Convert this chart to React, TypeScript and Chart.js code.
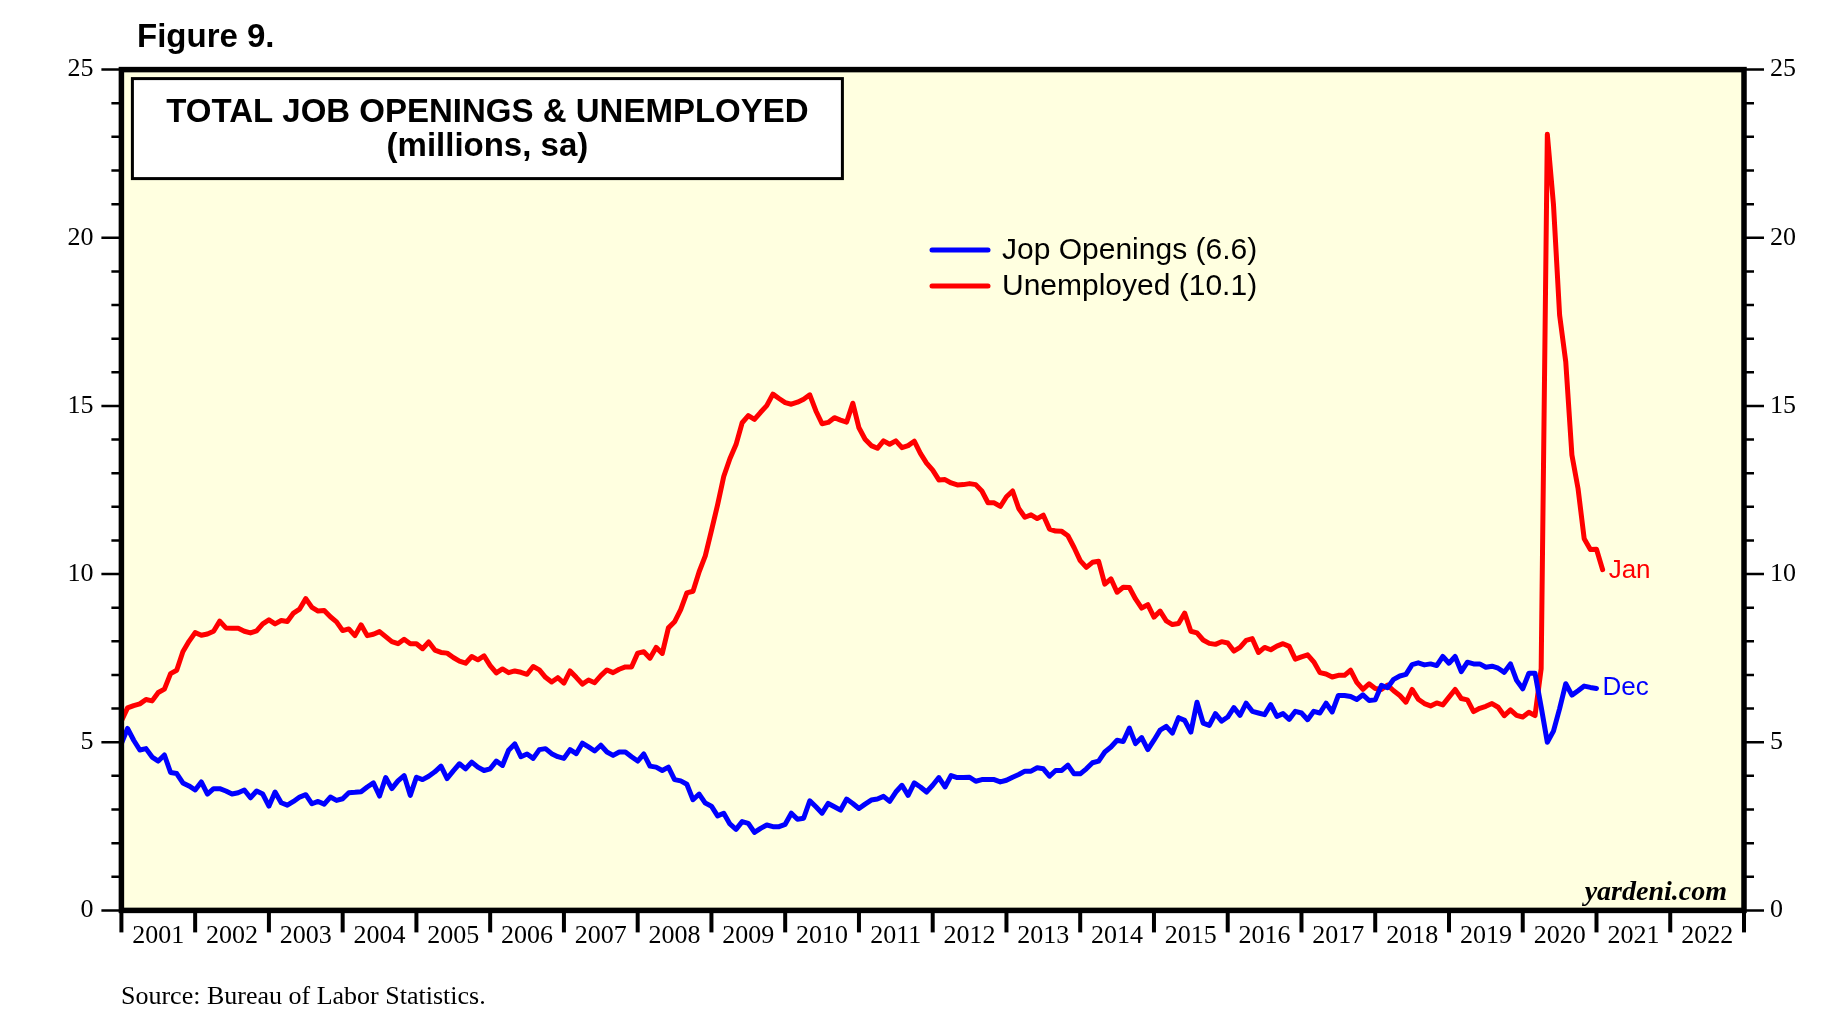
import React, { useEffect, useRef } from "react";
import { Chart, registerables } from "chart.js";

Chart.register(...registerables);

// Monthly series, first value = Dec 2000 (plotted at end of month)
const START_YEAR = 2000;
const START_MONTH = 12;

// Job openings (millions, sa): Dec 2000 .. Dec 2020
const jobOpenings: number[] = [
  4.96,
  5.41, 5.06, 4.77, 4.81, 4.56, 4.44, 4.62, 4.10, 4.07, 3.79, 3.70, 3.58, // 2001
  3.82, 3.46, 3.62, 3.62, 3.55, 3.46, 3.50, 3.58, 3.35, 3.55, 3.46, 3.10, // 2002
  3.52, 3.20, 3.13, 3.24, 3.37, 3.44, 3.17, 3.24, 3.16, 3.37, 3.27, 3.32, // 2003
  3.50, 3.51, 3.53, 3.67, 3.79, 3.40, 3.95, 3.62, 3.85, 4.01, 3.42, 3.96, // 2004
  3.89, 3.99, 4.12, 4.29, 3.92, 4.15, 4.36, 4.21, 4.41, 4.26, 4.16, 4.21, // 2005
  4.44, 4.31, 4.76, 4.95, 4.57, 4.65, 4.52, 4.78, 4.81, 4.66, 4.57, 4.52, // 2006
  4.78, 4.66, 4.97, 4.86, 4.74, 4.91, 4.71, 4.61, 4.71, 4.71, 4.57, 4.44, // 2007
  4.65, 4.29, 4.26, 4.16, 4.26, 3.89, 3.85, 3.75, 3.29, 3.46, 3.19, 3.10, // 2008
  2.81, 2.89, 2.57, 2.41, 2.64, 2.59, 2.32, 2.44, 2.54, 2.49, 2.49, 2.56, // 2009
  2.89, 2.71, 2.74, 3.26, 3.08, 2.89, 3.18, 3.08, 2.98, 3.31, 3.18, 3.03, // 2010
  3.16, 3.28, 3.31, 3.39, 3.24, 3.52, 3.72, 3.42, 3.79, 3.67, 3.52, 3.72, // 2011
  3.95, 3.67, 4.01, 3.95, 3.95, 3.96, 3.84, 3.89, 3.89, 3.89, 3.82, 3.87, // 2012
  3.96, 4.04, 4.14, 4.14, 4.24, 4.21, 3.99, 4.16, 4.16, 4.32, 4.06, 4.06, // 2013
  4.21, 4.39, 4.44, 4.71, 4.86, 5.06, 5.02, 5.42, 4.96, 5.14, 4.78, 5.06, // 2014
  5.36, 5.47, 5.27, 5.73, 5.65, 5.30, 6.19, 5.57, 5.50, 5.85, 5.63, 5.75, // 2015
  6.03, 5.80, 6.16, 5.92, 5.87, 5.82, 6.12, 5.77, 5.85, 5.68, 5.92, 5.87, // 2016
  5.67, 5.92, 5.87, 6.16, 5.90, 6.39, 6.39, 6.36, 6.27, 6.41, 6.24, 6.26, // 2017
  6.69, 6.62, 6.87, 6.97, 7.02, 7.31, 7.36, 7.30, 7.33, 7.28, 7.55, 7.35, // 2018
  7.55, 7.10, 7.38, 7.33, 7.33, 7.23, 7.26, 7.20, 7.08, 7.33, 6.84, 6.59, // 2019
  7.05, 7.05, 6.05, 5.00, 5.33, 6.00, 6.74, 6.40, 6.53, 6.67, 6.63, 6.60, // 2020
];

// Unemployed (millions, sa): Dec 2000 .. Jan 2021
const unemployed: number[] = [
  5.63,
  6.02, 6.09, 6.14, 6.27, 6.23, 6.48, 6.58, 7.04, 7.14, 7.69, 8.00, 8.26, // 2001
  8.18, 8.22, 8.30, 8.60, 8.40, 8.39, 8.39, 8.30, 8.25, 8.31, 8.52, 8.64, // 2002
  8.52, 8.62, 8.59, 8.84, 8.96, 9.27, 9.01, 8.90, 8.92, 8.73, 8.58, 8.32, // 2003
  8.37, 8.17, 8.49, 8.17, 8.21, 8.29, 8.14, 7.99, 7.93, 8.06, 7.93, 7.93, // 2004
  7.78, 7.98, 7.74, 7.67, 7.65, 7.52, 7.41, 7.35, 7.55, 7.45, 7.57, 7.28, // 2005
  7.06, 7.18, 7.07, 7.12, 7.08, 7.02, 7.25, 7.15, 6.93, 6.79, 6.92, 6.76, // 2006
  7.12, 6.93, 6.73, 6.85, 6.77, 6.98, 7.15, 7.07, 7.17, 7.24, 7.24, 7.65, // 2007
  7.69, 7.50, 7.82, 7.64, 8.40, 8.58, 8.94, 9.44, 9.49, 10.07, 10.54, 11.29, // 2008
  12.06, 12.90, 13.43, 13.85, 14.50, 14.71, 14.60, 14.81, 15.01, 15.35, 15.22, 15.10, // 2009
  15.05, 15.11, 15.20, 15.33, 14.85, 14.47, 14.51, 14.65, 14.58, 14.52, 15.08, 14.35, // 2010
  14.01, 13.82, 13.74, 13.96, 13.86, 13.96, 13.76, 13.82, 13.95, 13.59, 13.30, 13.09, // 2011
  12.80, 12.81, 12.71, 12.65, 12.66, 12.69, 12.66, 12.47, 12.12, 12.12, 12.01, 12.30, // 2012
  12.47, 11.95, 11.69, 11.76, 11.65, 11.75, 11.34, 11.28, 11.27, 11.14, 10.79, 10.40, // 2013
  10.20, 10.35, 10.38, 9.70, 9.86, 9.46, 9.61, 9.60, 9.26, 8.99, 9.09, 8.72, // 2014
  8.90, 8.61, 8.50, 8.53, 8.84, 8.30, 8.25, 8.04, 7.94, 7.91, 7.99, 7.95, // 2015
  7.71, 7.82, 8.03, 8.08, 7.67, 7.82, 7.75, 7.86, 7.93, 7.85, 7.47, 7.54, // 2016
  7.60, 7.39, 7.07, 7.03, 6.94, 6.99, 6.99, 7.14, 6.78, 6.57, 6.74, 6.60, // 2017
  6.57, 6.70, 6.53, 6.39, 6.19, 6.57, 6.28, 6.15, 6.08, 6.17, 6.11, 6.34, // 2018
  6.57, 6.30, 6.26, 5.91, 6.01, 6.07, 6.15, 6.04, 5.79, 5.96, 5.80, 5.75, // 2019
  5.89, 5.79, 7.19, 23.08, 20.99, 17.70, 16.31, 13.54, 12.54, 11.05, 10.73, 10.74, // 2020
  10.13, // 2021
];

const seriesNames = ["Jop Openings", "Unemployed"];
const endLabels = ["Dec", "Jan"];
const yearTicks: number[] = [];
for (let y = 2001; y <= 2023; y++) yearTicks.push(y);

const toPoints = (vals: number[]) =>
  vals.map((v, i) => ({ x: START_YEAR + (START_MONTH + i) / 12, y: v }));

const SERIF = "'Liberation Serif', 'Times New Roman', serif";
const SANS = "'Liberation Sans', Arial, sans-serif";
const BLUE = "#0000FF";
const RED = "#FF0000";

const decorPlugin = {
  id: "decor",
  beforeDraw(chart: any) {
    const { ctx, chartArea: a } = chart;
    ctx.save();
    ctx.fillStyle = "#FFFFFF";
    ctx.fillRect(0, 0, chart.width, chart.height);
    ctx.fillStyle = "#FFFFE0";
    ctx.fillRect(a.left, a.top, a.right - a.left, a.bottom - a.top);
    ctx.restore();
  },
  afterDatasetsDraw(chart: any) {
    const { ctx, chartArea: a } = chart;
    const ys = chart.scales.y;
    const xs = chart.scales.x;
    ctx.save();

    // y tick marks (both sides)
    ctx.strokeStyle = "#000";
    ctx.lineWidth = 2.5;
    for (let v = 0; v <= 25; v++) {
      const py = ys.getPixelForValue(v);
      const len = v % 5 === 0 ? 20 : 10;
      ctx.beginPath();
      ctx.moveTo(a.left - len, py);
      ctx.lineTo(a.left, py);
      ctx.moveTo(a.right, py);
      ctx.lineTo(a.right + len, py);
      ctx.stroke();
    }
    // x tick marks at year boundaries
    ctx.lineWidth = 4;
    for (const y of yearTicks) {
      const px = xs.getPixelForValue(y);
      ctx.beginPath();
      ctx.moveTo(px, a.bottom);
      ctx.lineTo(px, a.bottom + 22);
      ctx.stroke();
    }

    // frame
    ctx.lineWidth = 5.5;
    ctx.strokeRect(a.left, a.top, a.right - a.left, a.bottom - a.top);

    // title box
    const bx = a.left + 11, by = a.top + 9, bw = 710, bh = 100;
    ctx.fillStyle = "#FFFFFF";
    ctx.fillRect(bx, by, bw, bh);
    ctx.lineWidth = 3;
    ctx.strokeRect(bx, by, bw, bh);
    ctx.fillStyle = "#000";
    ctx.textAlign = "center";
    ctx.textBaseline = "middle";
    ctx.font = `bold 33px ${SANS}`;
    ctx.fillText("TOTAL JOB OPENINGS & UNEMPLOYED", bx + bw / 2, by + 34);
    ctx.fillText("(millions, sa)", bx + bw / 2, by + 68);

    // legend
    const datasets = chart.data.datasets;
    const lx = 932, ly0 = 250, lgap = 36;
    ctx.textAlign = "left";
    ctx.font = `30px ${SANS}`;
    datasets.forEach((ds: any, i: number) => {
      const ly = ly0 + i * lgap;
      ctx.strokeStyle = ds.borderColor;
      ctx.lineWidth = 5;
      ctx.lineCap = "round";
      ctx.beginPath();
      ctx.moveTo(lx, ly);
      ctx.lineTo(lx + 56, ly);
      ctx.stroke();
      const last = ds.data[ds.data.length - 1].y;
      ctx.fillStyle = "#000";
      ctx.fillText(`${ds.label} (${last.toFixed(1)})`, lx + 70, ly + 1);
    });

    // end labels
    ctx.font = `26px ${SANS}`;
    datasets.forEach((ds: any, i: number) => {
      const p = ds.data[ds.data.length - 1];
      ctx.fillStyle = ds.borderColor;
      ctx.fillText(endLabels[i], xs.getPixelForValue(p.x) + 6, ys.getPixelForValue(p.y) + (i === 0 ? -1 : 1));
    });

    // yardeni.com
    ctx.fillStyle = "#000";
    ctx.textAlign = "right";
    ctx.textBaseline = "alphabetic";
    ctx.font = `italic bold 28px ${SERIF}`;
    ctx.fillText("yardeni.com", a.right - 17, a.bottom - 10);

    // Figure label
    ctx.textAlign = "left";
    ctx.textBaseline = "middle";
    ctx.font = `bold 33px ${SANS}`;
    ctx.fillText("Figure 9.", 137, 38);

    // source
    ctx.font = `26px ${SERIF}`;
    ctx.fillText("Source: Bureau of Labor Statistics.", 121, 997);
    ctx.restore();
  },
};

export default function App() {
  const ref = useRef<HTMLCanvasElement | null>(null);
  useEffect(() => {
    if (!ref.current) return;
    const tickFont = { family: SERIF, size: 26 };
    const yBase = {
      min: 0,
      max: 25,
      grid: { display: false, drawTicks: false },
      border: { display: false },
      ticks: { stepSize: 5, color: "#000", font: tickFont },
    };
    const chart = new Chart(ref.current, {
      type: "line",
      data: {
        datasets: [
          {
            label: seriesNames[0],
            data: toPoints(jobOpenings),
            borderColor: BLUE,
            backgroundColor: BLUE,
            borderWidth: 5,
            pointRadius: 0,
            tension: 0,
            borderJoinStyle: "round",
            borderCapStyle: "round",
            yAxisID: "y",
          },
          {
            label: seriesNames[1],
            data: toPoints(unemployed),
            borderColor: RED,
            backgroundColor: RED,
            borderWidth: 5,
            pointRadius: 0,
            tension: 0,
            borderJoinStyle: "round",
            borderCapStyle: "round",
            yAxisID: "y",
          },
        ],
      },
      options: {
        animation: false,
        responsive: false,
        maintainAspectRatio: false,
        devicePixelRatio: 1,
        layout: { padding: { top: 69.6, left: 0, right: 0, bottom: 0 } },
        plugins: {
          legend: { display: false },
          title: { display: false },
          tooltip: { enabled: false },
        },
        scales: {
          x: {
            type: "linear",
            min: 2001,
            max: 2023,
            position: "bottom",
            grid: { display: false, drawTicks: false },
            border: { display: false },
            afterBuildTicks: (s: any) => {
              s.ticks = yearTicks.map((v) => ({ value: v }));
            },
            ticks: {
              autoSkip: false,
              maxRotation: 0,
              minRotation: 0,
              labelOffset: 36.9,
              padding: 10,
              color: "#000",
              font: tickFont,
              callback: (v: any) => (v < 2023 ? String(v) : ""),
            },
            afterFit: (s: any) => {
              s.height = 1023 - 910.4;
            },
          },
          y: {
            ...yBase,
            position: "left",
            ticks: { ...yBase.ticks, padding: 28 },
            afterFit: (s: any) => {
              s.width = 121.4;
            },
          },
          y2: {
            ...yBase,
            position: "right",
            ticks: { ...yBase.ticks, padding: 26 },
            afterFit: (s: any) => {
              s.width = 100;
            },
          },
        },
      } as any,
      plugins: [decorPlugin],
    });
    return () => chart.destroy();
  }, []);
  return (
    <div style={{ position: "fixed", left: 0, top: 0, width: 1844, height: 1023, background: "#fff" }}>
      <canvas ref={ref} width={1844} height={1023} style={{ width: 1844, height: 1023 }} />
    </div>
  );
}
